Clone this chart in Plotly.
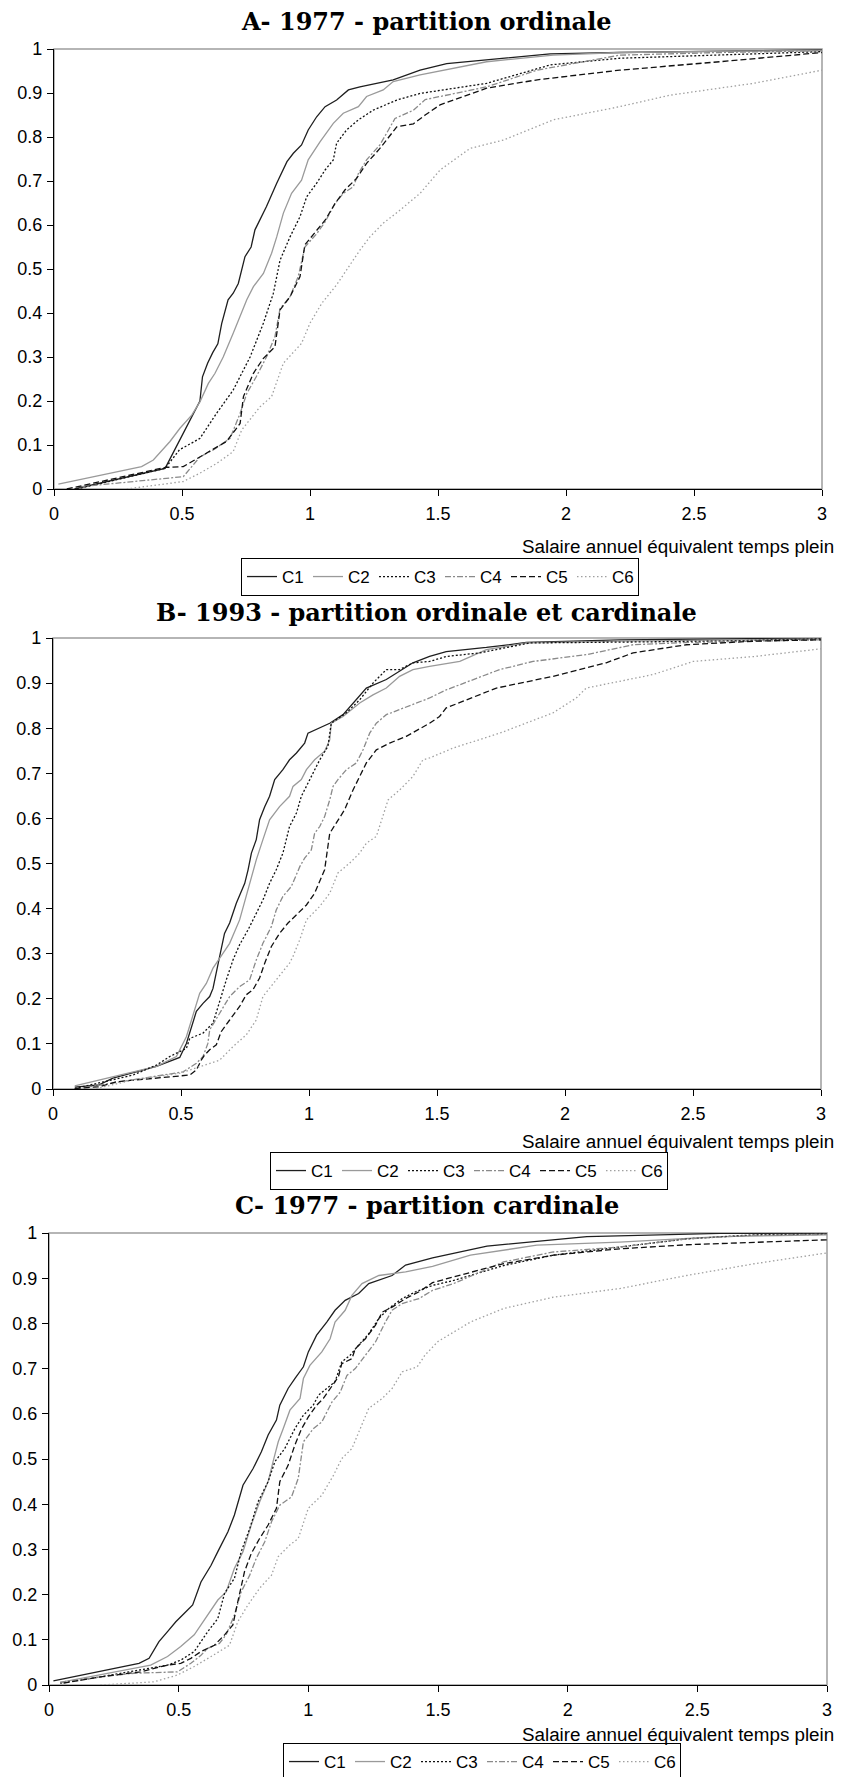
import plotly.graph_objects as go

# ---------------- data ----------------
series_names = ["C1", "C2", "C3", "C4", "C5", "C6"]
panel_titles = ["A- 1977 - partition ordinale",
                "B- 1993 - partition ordinale et cardinale",
                "C- 1977 - partition cardinale"]
x_axis_title = "Salaire annuel équivalent temps plein"
x_ticks = [0, 0.5, 1, 1.5, 2, 2.5, 3]
y_ticks = [0, 0.1, 0.2, 0.3, 0.4, 0.5, 0.6, 0.7, 0.8, 0.9, 1]

# Panel A
A_C1_x = [0.08, 0.434, 0.49, 0.57, 0.58, 0.60, 0.62, 0.64, 0.655, 0.68, 0.70, 0.72, 0.746, 0.77, 0.785, 0.83, 0.87, 0.91, 0.935, 0.967, 0.993, 1.026, 1.059, 1.104, 1.15, 1.195, 1.325, 1.43, 1.534, 1.69, 1.938, 2.21, 3.0]
A_C1_y = [0.0, 0.047, 0.11, 0.20, 0.255, 0.286, 0.31, 0.33, 0.376, 0.43, 0.445, 0.467, 0.528, 0.55, 0.589, 0.642, 0.695, 0.744, 0.763, 0.782, 0.816, 0.846, 0.869, 0.884, 0.907, 0.914, 0.93, 0.952, 0.967, 0.975, 0.989, 0.992, 0.998]
A_C2_x = [0.017, 0.342, 0.388, 0.427, 0.453, 0.492, 0.538, 0.57, 0.603, 0.629, 0.661, 0.70, 0.753, 0.779, 0.818, 0.85, 0.87, 0.896, 0.928, 0.967, 0.993, 1.039, 1.091, 1.13, 1.189, 1.221, 1.286, 1.325, 1.43, 1.69, 1.95, 2.21, 3.0]
A_C2_y = [0.011, 0.051, 0.066, 0.092, 0.108, 0.138, 0.168, 0.198, 0.24, 0.263, 0.30, 0.354, 0.43, 0.46, 0.49, 0.536, 0.573, 0.627, 0.672, 0.702, 0.748, 0.789, 0.831, 0.854, 0.869, 0.892, 0.907, 0.926, 0.941, 0.971, 0.986, 0.992, 0.997]
A_C3_x = [0.089, 0.434, 0.49, 0.57, 0.635, 0.70, 0.766, 0.818, 0.857, 0.883, 0.922, 0.961, 0.987, 1.026, 1.059, 1.091, 1.104, 1.143, 1.189, 1.247, 1.339, 1.43, 1.69, 1.94, 2.21, 2.60, 3.0]
A_C3_y = [0.0, 0.047, 0.089, 0.115, 0.172, 0.225, 0.30, 0.377, 0.445, 0.52, 0.573, 0.619, 0.664, 0.695, 0.725, 0.748, 0.786, 0.816, 0.839, 0.861, 0.884, 0.899, 0.922, 0.964, 0.979, 0.986, 0.994]
A_C4_x = [0.10, 0.505, 0.57, 0.622, 0.688, 0.727, 0.753, 0.79, 0.83, 0.863, 0.883, 0.922, 0.954, 0.98, 1.026, 1.059, 1.098, 1.13, 1.169, 1.189, 1.221, 1.273, 1.332, 1.404, 1.45, 1.69, 1.888, 2.21, 2.6, 3.0]
A_C4_y = [0.005, 0.028, 0.073, 0.089, 0.115, 0.172, 0.217, 0.255, 0.30, 0.346, 0.41, 0.437, 0.483, 0.55, 0.58, 0.607, 0.649, 0.672, 0.687, 0.717, 0.748, 0.782, 0.842, 0.861, 0.885, 0.914, 0.952, 0.986, 0.992, 0.996]
A_C5_x = [0.05, 0.245, 0.434, 0.505, 0.57, 0.622, 0.674, 0.727, 0.74, 0.779, 0.818, 0.863, 0.883, 0.922, 0.961, 0.98, 1.026, 1.059, 1.098, 1.137, 1.182, 1.221, 1.273, 1.339, 1.404, 1.45, 1.508, 1.69, 1.888, 2.21, 2.6, 3.0]
A_C5_y = [0.0, 0.024, 0.049, 0.051, 0.073, 0.089, 0.108, 0.149, 0.21, 0.263, 0.297, 0.323, 0.407, 0.437, 0.483, 0.555, 0.589, 0.611, 0.649, 0.68, 0.706, 0.74, 0.774, 0.823, 0.83, 0.85, 0.873, 0.911, 0.93, 0.952, 0.971, 0.992]
A_C6_x = [0.284, 0.505, 0.57, 0.635, 0.70, 0.733, 0.805, 0.85, 0.896, 0.967, 1.0, 1.046, 1.104, 1.143, 1.195, 1.234, 1.286, 1.352, 1.43, 1.508, 1.625, 1.755, 1.95, 2.21, 2.406, 2.732, 3.0]
A_C6_y = [0.0, 0.017, 0.036, 0.058, 0.085, 0.134, 0.187, 0.21, 0.286, 0.331, 0.377, 0.422, 0.464, 0.498, 0.543, 0.573, 0.604, 0.634, 0.672, 0.725, 0.774, 0.793, 0.839, 0.869, 0.895, 0.922, 0.952]

# Panel B
B_C1_x = [0.085, 0.18, 0.234, 0.404, 0.495, 0.521, 0.56, 0.586, 0.612, 0.625, 0.651, 0.67, 0.69, 0.716, 0.749, 0.762, 0.775, 0.794, 0.807, 0.827, 0.846, 0.866, 0.898, 0.924, 0.951, 0.983, 0.996, 1.042, 1.081, 1.133, 1.172, 1.224, 1.302, 1.354, 1.406, 1.471, 1.536, 1.693, 1.849, 2.214, 2.6, 3.0]
B_C1_y = [0.004, 0.009, 0.024, 0.05, 0.07, 0.101, 0.172, 0.19, 0.205, 0.223, 0.294, 0.345, 0.368, 0.412, 0.456, 0.486, 0.523, 0.553, 0.597, 0.626, 0.649, 0.686, 0.708, 0.73, 0.745, 0.767, 0.789, 0.80, 0.811, 0.83, 0.856, 0.889, 0.908, 0.926, 0.945, 0.959, 0.970, 0.979, 0.99, 0.996, 0.998, 1.0]
B_C2_x = [0.085, 0.404, 0.482, 0.521, 0.573, 0.599, 0.625, 0.651, 0.69, 0.729, 0.762, 0.794, 0.82, 0.846, 0.885, 0.924, 0.9375, 0.97, 0.99, 1.022, 1.061, 1.081, 1.087, 1.133, 1.198, 1.25, 1.302, 1.354, 1.406, 1.471, 1.589, 1.693, 1.849, 2.214, 3.0]
B_C2_y = [0.007, 0.05, 0.072, 0.116, 0.212, 0.234, 0.268, 0.29, 0.323, 0.375, 0.442, 0.508, 0.553, 0.597, 0.626, 0.649, 0.671, 0.686, 0.708, 0.73, 0.749, 0.774, 0.811, 0.826, 0.856, 0.874, 0.889, 0.915, 0.93, 0.937, 0.948, 0.974, 0.989, 0.993, 0.998]
B_C3_x = [0.085, 0.18, 0.313, 0.404, 0.456, 0.495, 0.521, 0.534, 0.586, 0.625, 0.651, 0.677, 0.703, 0.729, 0.762, 0.794, 0.82, 0.846, 0.872, 0.898, 0.924, 0.951, 0.97, 1.003, 1.042, 1.074, 1.087, 1.146, 1.198, 1.25, 1.302, 1.354, 1.406, 1.471, 1.536, 1.667, 1.862, 2.6, 3.0]
B_C3_y = [0.001, 0.013, 0.031, 0.053, 0.072, 0.083, 0.09, 0.112, 0.124, 0.146, 0.197, 0.242, 0.286, 0.32, 0.353, 0.39, 0.419, 0.456, 0.486, 0.523, 0.582, 0.612, 0.649, 0.686, 0.73, 0.76, 0.811, 0.834, 0.863, 0.90, 0.93, 0.93, 0.945, 0.948, 0.959, 0.967, 0.989, 0.993, 0.998]
B_C4_x = [0.13, 0.313, 0.443, 0.508, 0.56, 0.586, 0.605, 0.612, 0.651, 0.69, 0.729, 0.768, 0.794, 0.82, 0.853, 0.872, 0.898, 0.931, 0.964, 0.983, 1.009, 1.022, 1.042, 1.061, 1.081, 1.094, 1.113, 1.146, 1.185, 1.211, 1.237, 1.263, 1.302, 1.354, 1.406, 1.471, 1.536, 1.745, 1.875, 2.083, 2.266, 2.474, 3.0]
B_C4_y = [0.004, 0.02, 0.031, 0.038, 0.057, 0.072, 0.101, 0.131, 0.168, 0.205, 0.227, 0.242, 0.286, 0.323, 0.36, 0.397, 0.427, 0.449, 0.493, 0.512, 0.53, 0.567, 0.582, 0.604, 0.641, 0.671, 0.686, 0.708, 0.723, 0.752, 0.789, 0.811, 0.83, 0.841, 0.852, 0.867, 0.885, 0.93, 0.948, 0.963, 0.985, 0.99, 0.996]
B_C5_x = [0.085, 0.18, 0.247, 0.404, 0.482, 0.534, 0.56, 0.579, 0.592, 0.612, 0.638, 0.657, 0.69, 0.729, 0.755, 0.781, 0.807, 0.827, 0.853, 0.885, 0.918, 0.951, 0.99, 1.022, 1.061, 1.081, 1.107, 1.139, 1.172, 1.198, 1.224, 1.263, 1.315, 1.38, 1.471, 1.51, 1.536, 1.732, 1.953, 2.161, 2.266, 2.474, 2.74, 3.0]
B_C5_y = [0.001, 0.005, 0.016, 0.024, 0.029, 0.031, 0.042, 0.064, 0.075, 0.087, 0.098, 0.127, 0.153, 0.183, 0.209, 0.22, 0.246, 0.279, 0.316, 0.345, 0.368, 0.386, 0.408, 0.434, 0.486, 0.567, 0.59, 0.619, 0.663, 0.693, 0.723, 0.752, 0.767, 0.782, 0.811, 0.826, 0.845, 0.889, 0.915, 0.945, 0.967, 0.985, 0.993, 0.996]
B_C6_x = [0.169, 0.313, 0.495, 0.573, 0.651, 0.703, 0.755, 0.794, 0.82, 0.872, 0.924, 0.9375, 0.964, 0.99, 1.042, 1.081, 1.113, 1.159, 1.198, 1.224, 1.263, 1.309, 1.354, 1.406, 1.445, 1.471, 1.563, 1.745, 1.953, 2.044, 2.083, 2.344, 2.5, 2.74, 3.0]
B_C6_y = [0.001, 0.02, 0.035, 0.05, 0.064, 0.094, 0.12, 0.153, 0.205, 0.242, 0.279, 0.294, 0.331, 0.375, 0.405, 0.434, 0.479, 0.501, 0.523, 0.545, 0.56, 0.641, 0.663, 0.693, 0.73, 0.734, 0.756, 0.789, 0.834, 0.867, 0.889, 0.919, 0.948, 0.959, 0.976]

# Panel C
C_C1_x = [0.017, 0.347, 0.386, 0.424, 0.457, 0.489, 0.521, 0.554, 0.586, 0.625, 0.651, 0.69, 0.715, 0.748, 0.787, 0.819, 0.845, 0.877, 0.89, 0.922, 0.948, 0.981, 1.0, 1.032, 1.071, 1.103, 1.142, 1.194, 1.233, 1.323, 1.375, 1.479, 1.689, 2.074, 2.587, 3.0]
C_C1_y = [0.009, 0.048, 0.059, 0.096, 0.118, 0.14, 0.158, 0.177, 0.228, 0.265, 0.295, 0.339, 0.376, 0.442, 0.479, 0.516, 0.553, 0.586, 0.619, 0.656, 0.678, 0.704, 0.737, 0.774, 0.803, 0.829, 0.851, 0.866, 0.888, 0.906, 0.929, 0.945, 0.971, 0.992, 0.999, 1.0]
C_C2_x = [0.043, 0.392, 0.457, 0.508, 0.56, 0.612, 0.651, 0.683, 0.715, 0.748, 0.78, 0.812, 0.845, 0.864, 0.884, 0.903, 0.929, 0.968, 0.981, 1.006, 1.052, 1.084, 1.103, 1.142, 1.168, 1.207, 1.272, 1.375, 1.479, 1.625, 1.881, 2.2, 2.587, 3.0]
C_C2_y = [0.006, 0.044, 0.063, 0.085, 0.111, 0.155, 0.188, 0.206, 0.258, 0.295, 0.354, 0.405, 0.45, 0.494, 0.538, 0.567, 0.608, 0.634, 0.678, 0.707, 0.737, 0.766, 0.803, 0.829, 0.862, 0.888, 0.906, 0.914, 0.926, 0.951, 0.973, 0.98, 0.992, 0.996]
C_C3_x = [0.043, 0.198, 0.457, 0.508, 0.56, 0.612, 0.651, 0.677, 0.715, 0.741, 0.774, 0.806, 0.845, 0.871, 0.909, 0.948, 0.981, 1.019, 1.039, 1.071, 1.103, 1.129, 1.162, 1.194, 1.233, 1.272, 1.31, 1.362, 1.414, 1.479, 1.56, 1.753, 1.945, 2.2, 2.459, 2.72, 3.0]
C_C3_y = [0.004, 0.018, 0.044, 0.055, 0.074, 0.118, 0.147, 0.203, 0.236, 0.295, 0.346, 0.405, 0.45, 0.494, 0.523, 0.567, 0.597, 0.619, 0.641, 0.656, 0.671, 0.715, 0.73, 0.752, 0.777, 0.811, 0.833, 0.855, 0.87, 0.884, 0.895, 0.928, 0.951, 0.969, 0.987, 0.996, 0.998]
C_C4_x = [0.043, 0.198, 0.327, 0.495, 0.547, 0.586, 0.612, 0.657, 0.683, 0.715, 0.741, 0.774, 0.799, 0.832, 0.858, 0.89, 0.935, 0.961, 0.981, 1.019, 1.052, 1.091, 1.123, 1.149, 1.181, 1.22, 1.259, 1.297, 1.323, 1.362, 1.427, 1.479, 1.56, 1.753, 1.945, 2.2, 2.459, 2.72, 3.0]
C_C4_y = [0.006, 0.018, 0.026, 0.029, 0.048, 0.066, 0.081, 0.092, 0.111, 0.155, 0.206, 0.243, 0.28, 0.317, 0.361, 0.398, 0.416, 0.457, 0.538, 0.567, 0.582, 0.626, 0.648, 0.685, 0.70, 0.73, 0.759, 0.803, 0.829, 0.844, 0.855, 0.873, 0.888, 0.936, 0.958, 0.969, 0.987, 0.995, 0.997]
C_C5_x = [0.056, 0.198, 0.353, 0.457, 0.508, 0.547, 0.586, 0.638, 0.677, 0.709, 0.728, 0.754, 0.78, 0.812, 0.845, 0.877, 0.89, 0.922, 0.948, 0.974, 1.0, 1.032, 1.058, 1.091, 1.116, 1.129, 1.168, 1.181, 1.22, 1.259, 1.285, 1.323, 1.375, 1.427, 1.479, 1.56, 1.753, 1.945, 2.2, 2.459, 2.72, 3.0]
C_C5_y = [0.004, 0.018, 0.029, 0.044, 0.048, 0.059, 0.074, 0.088, 0.111, 0.133, 0.184, 0.251, 0.291, 0.324, 0.354, 0.391, 0.45, 0.486, 0.531, 0.567, 0.593, 0.619, 0.634, 0.66, 0.682, 0.711, 0.722, 0.744, 0.766, 0.796, 0.825, 0.836, 0.855, 0.87, 0.89, 0.903, 0.932, 0.951, 0.965, 0.974, 0.98, 0.985]
C_C6_x = [0.198, 0.405, 0.495, 0.56, 0.625, 0.696, 0.728, 0.767, 0.812, 0.858, 0.884, 0.929, 0.961, 1.0, 1.052, 1.097, 1.129, 1.168, 1.2, 1.233, 1.285, 1.323, 1.362, 1.42, 1.45, 1.50, 1.625, 1.753, 1.945, 2.2, 2.459, 2.72, 3.0]
C_C6_y = [0.0, 0.007, 0.022, 0.041, 0.063, 0.088, 0.14, 0.177, 0.214, 0.243, 0.284, 0.31, 0.324, 0.391, 0.42, 0.464, 0.501, 0.523, 0.567, 0.612, 0.634, 0.656, 0.693, 0.704, 0.73, 0.76, 0.803, 0.833, 0.858, 0.877, 0.906, 0.932, 0.956]

panel_A = [(A_C1_x, A_C1_y), (A_C2_x, A_C2_y), (A_C3_x, A_C3_y), (A_C4_x, A_C4_y), (A_C5_x, A_C5_y), (A_C6_x, A_C6_y)]
panel_B = [(B_C1_x, B_C1_y), (B_C2_x, B_C2_y), (B_C3_x, B_C3_y), (B_C4_x, B_C4_y), (B_C5_x, B_C5_y), (B_C6_x, B_C6_y)]
panel_C = [(C_C1_x, C_C1_y), (C_C2_x, C_C2_y), (C_C3_x, C_C3_y), (C_C4_x, C_C4_y), (C_C5_x, C_C5_y), (C_C6_x, C_C6_y)]

# ---------------- styling / layout ----------------
W, H = 853, 1777
line_styles = [
    dict(color="#1e1e1e", width=1.3, dash="solid"),
    dict(color="#9a9a9a", width=1.3, dash="solid"),
    dict(color="#111111", width=1.3, dash="2px,2px"),
    dict(color="#8a8a8a", width=1.3, dash="6px,2px,2px,2px"),
    dict(color="#111111", width=1.3, dash="6px,3px"),
    dict(color="#a0a0a0", width=1.3, dash="1.5px,2.5px"),
]

# plot-area boxes in pixels: (left, right, top, bottom)
boxes = [(54, 822, 49, 489), (53, 821, 638, 1089), (49, 827, 1233, 1685)]
title_y = [21, 613, 1205]
axis_title_y = [546, 1141, 1734]
legend_pos = [(241, 558), (270, 1152), (283, 1743)]

FONT = "Liberation Sans"

fig = go.Figure()
panels = [panel_A, panel_B, panel_C]
legend_ids = ["legend", "legend2", "legend3"]
for p, data in enumerate(panels):
    xa = "x" if p == 0 else f"x{p+1}"
    ya = "y" if p == 0 else f"y{p+1}"
    for s, (xs, ys) in enumerate(data):
        fig.add_trace(go.Scatter(
            x=xs, y=ys, mode="lines", name=series_names[s],
            line=line_styles[s], xaxis=xa, yaxis=ya,
            legend=legend_ids[p], showlegend=True, hoverinfo="skip"))

layout = dict(width=W, height=H, margin=dict(l=0, r=0, t=0, b=0, pad=0, autoexpand=False),
              template="none",
              paper_bgcolor="white", plot_bgcolor="white",
              font=dict(family=FONT, size=18, color="black"))
annotations = []
shapes = []
for p, (l, r, t, b) in enumerate(boxes):
    sfx = "" if p == 0 else str(p + 1)
    xdom = [l / W, r / W]
    ydom = [1 - b / H, 1 - t / H]
    layout[f"xaxis{sfx}"] = dict(
        domain=xdom, range=[0, 3], tickvals=x_ticks, ticks="outside", ticklen=6,
        tickcolor="black", showline=True, linecolor="black", linewidth=1.2,
        showgrid=False, zeroline=False, anchor=f"y{sfx}", ticklabelstandoff=2,
        automargin=False,
        tickfont=dict(family=FONT, size=18, color="black"), fixedrange=True)
    layout[f"yaxis{sfx}"] = dict(
        domain=ydom, range=[0, 1], tickvals=y_ticks, ticks="outside", ticklen=6,
        tickcolor="black", showline=True, linecolor="black", linewidth=1.2,
        showgrid=False, zeroline=False, anchor=f"x{sfx}", ticklabelstandoff=1,
        automargin=False,
        tickfont=dict(family=FONT, size=18, color="black"), fixedrange=True)
    shapes.append(dict(type="rect", xref=f"x{sfx} domain", yref=f"y{sfx} domain",
                       x0=0, x1=1, y0=0, y1=1, line=dict(color="#9d9d9d", width=1.5),
                       layer="below"))
    annotations.append(dict(text=panel_titles[p], x=0.5, xref="paper", xanchor="center",
                            y=1 - title_y[p] / H, yref="paper", yanchor="middle",
                            showarrow=False,
                            font=dict(family="DejaVu Serif", size=24, weight="bold", color="black")))
    annotations.append(dict(text=x_axis_title, x=836 / W, xref="paper", xanchor="right",
                            y=1 - axis_title_y[p] / H, yref="paper", yanchor="middle",
                            showarrow=False, font=dict(family=FONT, size=18.8, color="black")))
    lx, ly = legend_pos[p]
    layout[legend_ids[p]] = dict(
        orientation="h", x=lx / W, xanchor="left", y=1 - ly / H, yanchor="top",
        bgcolor="white", bordercolor="black", borderwidth=1,
        font=dict(family=FONT, size=17, color="black"), itemwidth=30,
        entrywidth=21, entrywidthmode="pixels",
        tracegroupgap=0, itemclick=False, itemdoubleclick=False)

layout["annotations"] = annotations
layout["shapes"] = shapes
fig.update_layout(**layout)
fig.write_html("out.html", config={"displayModeBar": False, "staticPlot": True},
               post_script="document.body.style.margin='0';document.body.style.padding='0';")
